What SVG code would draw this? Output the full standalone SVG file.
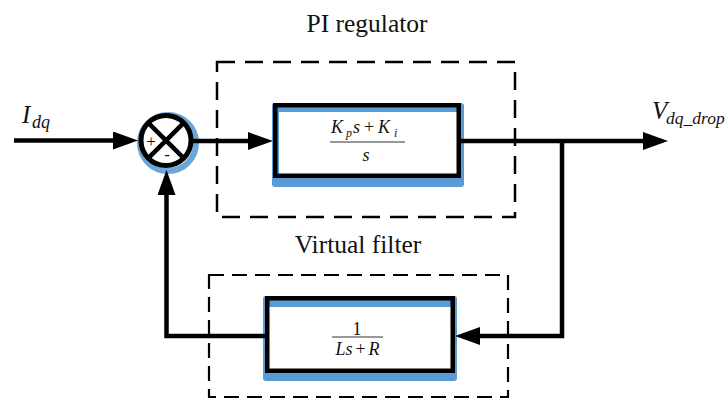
<svg xmlns="http://www.w3.org/2000/svg" width="727" height="399" viewBox="0 0 727 399">
<style>
.lbl{font-family:"Liberation Serif","Times New Roman",serif;fill:#111}
.it{font-style:italic}
.wire{fill:none;stroke:#000;stroke-width:4.5}
.dash1{fill:none;stroke:#000;stroke-width:2.5;stroke-dasharray:18 10}
.dash2{fill:none;stroke:#000;stroke-width:2.2;stroke-dasharray:15 8}
.blk{fill:none;stroke:#000;stroke-width:4.5}
.blue{fill:#5b9bd5}
.frac{stroke:#333;stroke-width:1.2}
</style>
<defs>
<marker id="ah" markerUnits="userSpaceOnUse" markerWidth="26" markerHeight="18" refX="5" refY="9" orient="auto">
<path d="M0,0 L25,9 L0,18 Z" fill="#000"/>
</marker>
</defs>
<rect width="727" height="399" fill="#fff"/>

<g id="pi-group">
<rect class="dash1" x="217" y="62" width="298" height="155"/>
<text class="lbl" x="367" y="32" font-size="25.5" text-anchor="middle">PI regulator</text>
</g>

<g id="filter-group">
<rect class="dash2" x="209" y="275" width="299" height="122"/>
<text class="lbl" x="358" y="253" font-size="25.5" text-anchor="middle">Virtual filter</text>
</g>

<g id="sum">
<circle cx="168" cy="143" r="28" fill="none" stroke="#5b9bd5" stroke-width="6" opacity="0.9"/>
<circle cx="166" cy="140.5" r="25" fill="#fff" stroke="#000" stroke-width="5"/>
<path d="M148.3,122.8 L183.7,158.2 M183.7,122.8 L148.3,158.2" stroke="#000" stroke-width="4.5"/>
<text class="lbl" x="151" y="147" font-size="17" text-anchor="middle">+</text>
<text class="lbl" x="167" y="160" font-size="17" text-anchor="middle">-</text>
</g>

<g id="pi-block">
<rect class="blue" x="272" y="103" width="192" height="84" rx="3"/>
<rect x="279" y="112" width="180" height="64" fill="#fff"/>
<rect class="blk" x="275.25" y="105.25" width="183.5" height="70.5"/>
<text class="lbl it" y="133" font-size="18"><tspan x="331">K</tspan><tspan x="346" y="137" font-size="12">p</tspan><tspan x="353" y="133">s</tspan><tspan x="364" font-style="normal">+</tspan><tspan x="378">K</tspan><tspan x="394" y="137" font-size="12">i</tspan></text>
<line class="frac" x1="330" y1="142" x2="405" y2="142"/>
<text class="lbl it" x="366" y="161" font-size="18" text-anchor="middle">s</text>
</g>

<g id="filter-block">
<rect class="blue" x="263" y="296" width="194" height="85" rx="3"/>
<rect x="269" y="307" width="182" height="62" fill="#fff"/>
<rect class="blk" x="267.25" y="298.25" width="185.5" height="72.5"/>
<text class="lbl" x="357" y="335" font-size="18" text-anchor="middle">1</text>
<line class="frac" x1="332" y1="337" x2="383" y2="337"/>
<text class="lbl it" x="357.5" y="355" font-size="18" text-anchor="middle">Ls<tspan font-style="normal" dx="3">+</tspan><tspan dx="3">R</tspan></text>
</g>

<g id="labels">
<text class="lbl it" x="22" y="123" font-size="25">I<tspan x="32" y="128" font-size="18">dq</tspan></text>
<text class="lbl it" x="652" y="119" font-size="25">V<tspan x="666" y="124" font-size="17.5">dq_drop</tspan></text>
</g>

<g id="connectors">
<path class="wire" d="M14,140.5 H118" marker-end="url(#ah)"/>
<path class="wire" d="M191,141 H253" marker-end="url(#ah)"/>
<path class="wire" d="M461,141 H648" marker-end="url(#ah)"/>
<path class="wire" d="M562,139 V336 H475" marker-end="url(#ah)"/>
<path class="wire" d="M265,336 H166.5 V190" marker-end="url(#ah)"/>
</g>
</svg>
